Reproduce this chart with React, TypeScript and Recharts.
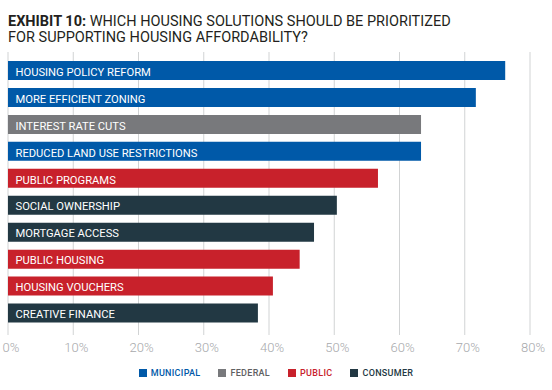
import React from 'react';
import { BarChart, Bar, XAxis, YAxis, CartesianGrid, Cell, LabelList } from 'recharts';

const categories = [
  'HOUSING POLICY REFORM',
  'MORE EFFICIENT ZONING',
  'INTEREST RATE CUTS',
  'REDUCED LAND USE RESTRICTIONS',
  'PUBLIC PROGRAMS',
  'SOCIAL OWNERSHIP',
  'MORTGAGE ACCESS',
  'PUBLIC HOUSING',
  'HOUSING VOUCHERS',
  'CREATIVE FINANCE',
];
const values = [76.2, 71.7, 63.3, 63.3, 56.7, 50.4, 46.9, 44.7, 40.6, 38.3];
const groups = [
  'MUNICIPAL',
  'MUNICIPAL',
  'FEDERAL',
  'MUNICIPAL',
  'PUBLIC',
  'CONSUMER',
  'CONSUMER',
  'PUBLIC',
  'PUBLIC',
  'CONSUMER',
];
const legendGroups = ['MUNICIPAL', 'FEDERAL', 'PUBLIC', 'CONSUMER'];
const groupColors: Record<string, string> = {
  MUNICIPAL: '#0059A8',
  FEDERAL: '#78797C',
  PUBLIC: '#C8212B',
  CONSUMER: '#223843',
};
const legendTextColors: Record<string, string> = {
  MUNICIPAL: '#0059A8',
  FEDERAL: '#5f6062',
  PUBLIC: '#C8212B',
  CONSUMER: '#223843',
};
const xTicks = [0, 10, 20, 30, 40, 50, 60, 70, 80];
const titleBold = 'EXHIBIT 10:';
const titleLine1 = ' WHICH HOUSING SOLUTIONS SHOULD BE PRIORITIZED';
const titleLine2 = 'FOR SUPPORTING HOUSING AFFORDABILITY?';

const data = categories.map((name, i) => ({ name, value: values[i], group: groups[i] }));

const FONT = 'Roboto, "Noto Sans", sans-serif';

const BarLabel = (props: any) => {
  const { x, y, height, value } = props;
  return (
    <text
      x={Number(x) + 7.5}
      y={Number(y) + Number(height) / 2 + 5.2}
      fill="#ffffff"
      fontSize={11.2}
      fontFamily={FONT}
      letterSpacing={0}
    >
      {value}
    </text>
  );
};

const XTick = (props: any) => {
  const { x, y, payload } = props;
  return (
    <text
      x={Number(x) + 3}
      y={y}
      dy="0.71em"
      textAnchor="middle"
      fill="#a7a9ac"
      fontSize={13}
      fontFamily={FONT}
      fontWeight={300}
    >
      {payload.value}%
    </text>
  );
};

export default function App() {
  return (
    <div
      style={{
        position: 'absolute',
        left: 0,
        top: 0,
        width: 552,
        height: 390,
        background: '#ffffff',
        fontFamily: FONT,
      }}
    >
      <svg width={552} height={50} style={{ position: 'absolute', left: 0, top: 0 }}>
        <text x={8} y={25.7} fontSize={14.5} fontFamily={FONT} fill="#231f20">
          <tspan fontWeight={700}>{titleBold}</tspan>
          <tspan>{titleLine1}</tspan>
        </text>
        <text x={8} y={42.3} fontSize={14.5} fontFamily={FONT} fill="#231f20">
          {titleLine2}
        </text>
      </svg>
      <div style={{ position: 'absolute', left: 0, top: 0 }}>
        <BarChart
          width={552}
          height={390}
          data={data}
          layout="vertical"
          margin={{ top: 52, right: 22, bottom: 25, left: 8 }}
        >
          <CartesianGrid horizontal={false} vertical={true} stroke="#d1d3d4" strokeWidth={1} />
          <XAxis
            type="number"
            domain={[0, 80]}
            ticks={xTicks}
            axisLine={false}
            tickLine={false}
            tick={XTick}
            interval={0}
            height={30}
          />
          <YAxis
            type="category"
            dataKey="name"
            hide
            padding={{ top: 5, bottom: 8.5 }}
          />
          <Bar dataKey="value" barSize={19} isAnimationActive={false}>
            {data.map((d, i) => (
              <Cell key={i} fill={groupColors[d.group]} />
            ))}
            <LabelList dataKey="name" content={BarLabel} />
          </Bar>
        </BarChart>
      </div>
      <div
        style={{
          position: 'absolute',
          left: 0,
          top: 368.8,
          width: 552,
          height: 8,
          display: 'flex',
          justifyContent: 'center',
          alignItems: 'center',
        }}
      >
        {legendGroups.map((g) => (
          <div
            key={g}
            style={{ display: 'flex', alignItems: 'center', margin: '0 9px', height: 8 }}
          >
            <div style={{ width: 8, height: 8, background: groupColors[g], marginRight: 4 }} />
            <span
              style={{
                fontSize: 9,
                fontWeight: 500,
                lineHeight: '8px',
                letterSpacing: 0.3,
                color: legendTextColors[g],
                fontFamily: FONT,
              }}
            >
              {g}
            </span>
          </div>
        ))}
      </div>
    </div>
  );
}
